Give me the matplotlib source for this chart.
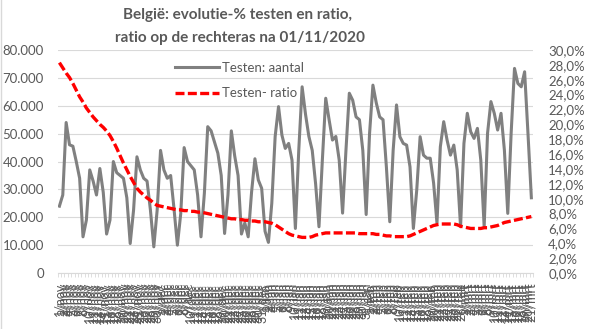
import numpy as np
import pandas as pd
import matplotlib
matplotlib.use('Agg')
import matplotlib.pyplot as plt
from matplotlib.lines import Line2D
from matplotlib.ticker import FuncFormatter

plt.rcParams['font.family'] = ['Lato', 'DejaVu Sans']

# aantal testen per dag (in duizendtallen), vanaf 01/11/2020
testen_k = [24, 28, 54, 46, 45.5, 40, 34,
            13, 19, 37, 33, 28, 37.5, 29,
            14, 19, 40, 36, 35, 34, 27,
            10.6, 22.6, 41.7, 37, 34, 33, 22.6,
            9.4, 22.6, 44, 37, 34, 35, 23,
            10, 21.4, 45, 40, 38.5, 37, 28,
            13, 28.6, 52.5, 51, 47, 43, 35,
            14.2, 28, 51, 42, 35, 14, 18,
            13, 29, 41, 33.4, 30.4, 15, 11,
            25, 49, 59.7, 49.5, 44.7, 46.5, 40.5,
            16, 44, 66.8, 57, 49, 44, 32,
            16.6, 40.5, 62.7, 55, 47.7, 49, 40.5,
            21.5, 44, 64.5, 62, 56, 55, 44,
            21, 50, 67.4, 61, 56, 55, 38,
            18.4, 44, 60.3, 48.9, 46.5, 45.9, 38.1,
            16, 29.8, 48.9, 42.3, 41.2, 41.2, 32.3,
            17.9, 45.3, 54.3, 47.7, 42.3, 45.9, 37,
            16.6, 46.5, 57.3, 50.7, 48.3, 51.9, 40.5,
            16.6, 50.1, 61.5, 57.3, 51.3, 57.3, 44.1,
            21.4, 50.1, 73.4, 68, 66.8, 72.2, 50,
            27]

# positiviteitsratio in %
ratio_pct = [28.3, 27.6, 26.9, 26.3, 25.5, 24.6, 23.7, 23.0, 22.2, 21.6, 21.0, 20.5,
             20.0, 19.6, 19.1, 18.5, 17.7, 16.8, 15.8, 14.8, 13.9, 13.0, 12.2, 11.4,
             10.9, 10.5, 10.1, 9.8, 9.4, 9.1, 9.0,
             8.9, 8.8, 8.7, 8.6, 8.5, 8.5, 8.4, 8.4, 8.3, 8.3, 8.2, 8.2, 8.1, 8.0,
             7.9, 7.8, 7.7, 7.6, 7.5, 7.4, 7.3, 7.3, 7.2, 7.2, 7.1, 7.1, 7.0, 7.0,
             6.9, 6.9, 6.9, 6.8, 6.7,
             6.5, 6.2, 5.9, 5.6, 5.3, 5.1, 5.0, 4.9, 4.8, 4.8, 4.8, 4.9, 5.1, 5.2,
             5.3, 5.4, 5.4, 5.4,
             5.4, 5.4, 5.4, 5.4, 5.4, 5.4, 5.4, 5.3, 5.3, 5.3, 5.3, 5.3, 5.2, 5.2,
             5.1, 5.0, 5.0, 4.9, 4.9, 4.9, 4.9, 4.9,
             5.0, 5.2, 5.4, 5.6, 5.8, 6.0, 6.2, 6.4, 6.5, 6.6, 6.6, 6.6, 6.6, 6.6,
             6.5, 6.3, 6.2, 6.1, 6.0, 6.0, 6.0, 6.0, 6.1,
             6.1, 6.2, 6.3, 6.4, 6.6, 6.8, 6.9, 7.0, 7.1, 7.2, 7.3, 7.4, 7.5, 7.6]

maanden = {11: 'nov', 12: 'dec', 1: 'jan', 2: 'feb', 3: 'mrt'}
startdatum = '2020-11-01'

dagen = pd.date_range(startdatum, periods=len(testen_k), freq='D')
labels = [f'{d.day}/{maanden[d.month]}' for d in dagen]
testen = np.array(testen_k) * 1000
ratio = np.array(ratio_pct) / 100
x = np.arange(len(testen))

tekstkleur = '#595959'
rasterkleur = '#d9d9d9'

fig = plt.figure(figsize=(5.89, 3.29), dpi=100)
ax = fig.add_axes([0.098, 0.170, 0.807, 0.678])
ax2 = ax.twinx()

l1, = ax.plot(x, testen, color='#808080', lw=2.2, label='Testen: aantal')
l2, = ax2.plot(x, ratio, color='#ff0000', lw=2.4, ls=(0, (2.7, 1.0)),
               label='Testen- ratio')

# linkeras: aantal testen
ax.set_ylim(0, 80000)
ax.set_yticks(np.arange(0, 80001, 10000))
ax.yaxis.set_major_formatter(FuncFormatter(lambda v, p: f'{int(v):,}'.replace(',', '.')))
ax.yaxis.grid(True, color=rasterkleur, lw=0.8)
ax.set_axisbelow(True)

# rechteras: ratio
ax2.set_ylim(0, 0.30)
ax2.set_yticks(np.arange(0, 0.3001, 0.02))
ax2.yaxis.set_major_formatter(FuncFormatter(lambda v, p: f'{v*100:.1f}%'.replace('.', ',')))

ax.set_xlim(-0.5, len(x) - 0.5)
ax.set_xticks(x)
ax.set_xticklabels(labels, rotation=90, fontsize=9, color=tekstkleur)
ax.set_xticks(np.arange(-0.5, len(x)), minor=True)
ax.tick_params(axis='x', which='major', length=0, pad=7)
ax.tick_params(axis='x', which='minor', length=3, color=rasterkleur)
ax.tick_params(axis='y', length=0, pad=10, labelsize=9.5, labelcolor=tekstkleur)
ax2.tick_params(axis='y', length=0, pad=11, labelsize=9.5, labelcolor=tekstkleur)

for a in (ax, ax2):
    for s in a.spines.values():
        s.set_visible(False)
ax.spines['bottom'].set_visible(True)
ax.spines['bottom'].set_color(rasterkleur)

fig.text(238 / 589, 1 - 15 / 329, 'België: evolutie-% testen en ratio,', ha='center',
         va='center', fontsize=11, fontweight='bold', color=tekstkleur)
fig.text(240 / 589, 1 - 38 / 329, 'ratio op de rechteras na 01/11/2020', ha='center',
         va='center', fontsize=11, fontweight='bold', color=tekstkleur)

fig.legend([l1, l2], [l1.get_label(), l2.get_label()], loc='upper left',
           bbox_to_anchor=(175 / 589, 1 - 62 / 329), frameon=False, fontsize=9.5,
           handlelength=3.3, handletextpad=0.3, labelspacing=1.0, borderpad=0,
           borderaxespad=0, labelcolor=tekstkleur)

fig.add_artist(Line2D([0.001, 0.001], [0, 1], color=rasterkleur, lw=1))

fig.savefig('out.png', dpi=100)
